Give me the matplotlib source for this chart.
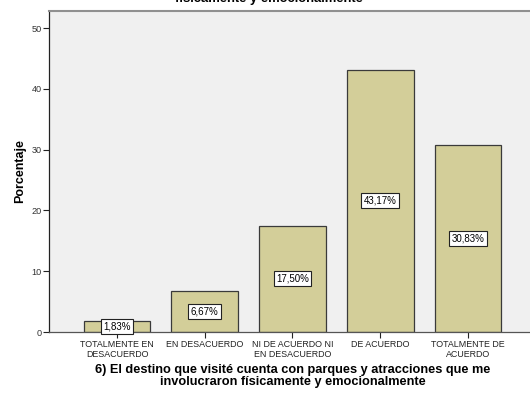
import matplotlib
matplotlib.use("Agg")
import matplotlib.pyplot as plt
import numpy as np

categories = ["TOTALMENTE EN\nDESACUERDO", "EN DESACUERDO", "NI DE ACUERDO NI\nEN DESACUERDO",
              "DE ACUERDO", "TOTALMENTE DE\nACUERDO"]
values = [1.83, 6.67, 17.50, 43.17, 30.83]
yticks = [0, 10, 20, 30, 40, 50]
title = "6) El destino que visité cuenta con parques y atracciones que me involucraron\nfísicamente y emocionalmente"
xlabel = "6) El destino que visité cuenta con parques y atracciones que me\ninvolucraron físicamente y emocionalmente"

plt.rcParams['font.family'] = ['Liberation Sans', 'DejaVu Sans']

W, H = 530, 393
fig = plt.figure(figsize=(W / 100, H / 100), dpi=100)
left, right, top, bottom = 49, 536, 11, 332
ax = fig.add_axes([left / W, 1 - bottom / H, (right - left) / W, (bottom - top) / H])
ax.set_facecolor("#f0f0f0")

x = np.arange(len(values))
ax.bar(x, values, width=0.76, color="#d3ce99", edgecolor="#3a3a3a", linewidth=0.9, zorder=2)
for xi, v in zip(x, values):
    ax.text(xi, v / 2, f"{v:.2f}%".replace(".", ","), ha="center", va="center", fontsize=7,
            zorder=3, bbox=dict(boxstyle="square,pad=0.25", fc="white", ec="#222222", lw=0.8))

ax.set_xlim(-0.775, 4.775)
ax.set_ylim(0, 52.8)
ax.set_yticks(yticks)
ax.set_xticks(x)
ax.set_xticklabels(categories, fontsize=6.4, linespacing=1.05)
ax.tick_params(axis="y", labelsize=6.6, length=4, width=0.8, colors="#222222", pad=1)
ax.tick_params(axis="x", length=4, width=0.8, colors="#222222", pad=2)
for lbl in ax.get_yticklabels():
    lbl.set_color("#333333")

ax.spines["left"].set_color("#222222")
ax.spines["left"].set_linewidth(0.9)
ax.spines["bottom"].set_color("#555555")
ax.spines["bottom"].set_linewidth(0.9)
ax.spines["top"].set_color("#909090")
ax.spines["top"].set_linewidth(1.5)
ax.spines["right"].set_visible(False)

ax.set_ylabel("Porcentaje", fontsize=9, fontweight="bold", labelpad=4)
ax.set_xlabel(xlabel, fontsize=9.2, fontweight="bold", linespacing=1.0, labelpad=4)

fig.text(269 / W, 1 - 5 / H, title, ha="center", va="bottom", fontsize=9.4, fontweight="bold",
         linespacing=0.95)

fig.savefig("out.png", dpi=100)
